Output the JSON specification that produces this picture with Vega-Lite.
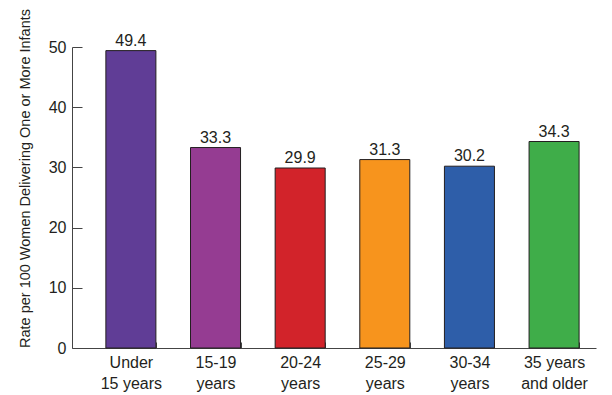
{
  "$schema": "https://vega.github.io/schema/vega-lite/v6.json",
  "autosize": "none",
  "padding": {"left": 72, "top": 47, "right": 16, "bottom": 47},
  "width": 524,
  "height": 301,
  "background": "white",
  "config": {
    "view": {"stroke": null},
    "font": "Liberation Sans",
    "axis": {"grid": false, "domainColor": "#444444", "tickColor": "#444444", "labelColor": "#231f20", "labelFont": "Liberation Sans", "titleFont": "Liberation Sans"}
  },
  "data": {
    "values": [
      {"age": "Under|15 years", "rate": 49.4},
      {"age": "15-19|years", "rate": 33.3},
      {"age": "20-24|years", "rate": 29.9},
      {"age": "25-29|years", "rate": 31.3},
      {"age": "30-34|years", "rate": 30.2},
      {"age": "35 years|and older", "rate": 34.3}
    ]
  },
  "encoding": {
    "x": {
      "field": "age", "type": "nominal", "sort": null,
      "scale": {"paddingInner": 0.409, "paddingOuter": 0.3, "align": 0.667},
      "axis": {
        "title": null, "labelAngle": 0, "labelFontSize": 16, "labelPadding": 12,
        "labelExpr": "isValid(datum.value) ? split(datum.value, '|') : ''", "labelLineHeight": 21,
        "tickBand": "extent", "tickSize": -6, "labelBaseline": "top"
      }
    },
    "y": {
      "field": "rate", "type": "quantitative",
      "scale": {"domain": [0, 50], "nice": false},
      "axis": {
        "values": [0, 10, 20, 30, 40, 50], "tickSize": -10, "labelPadding": 16, "labelFontSize": 16,
        "title": "Rate per 100 Women Delivering One or More Infants",
        "titleFontSize": 14.5, "titleFontWeight": "normal", "titleColor": "#231f20",
        "titleX": -47, "titleY": 131, "titleAngle": 270, "titleAlign": "center", "titleBaseline": "middle"
      }
    }
  },
  "layer": [
    {
      "mark": {"type": "bar", "stroke": "#231f20", "strokeWidth": 1},
      "encoding": {
        "color": {
          "field": "age", "type": "nominal", "legend": null,
          "scale": {
            "domain": ["Under|15 years", "15-19|years", "20-24|years", "25-29|years", "30-34|years", "35 years|and older"],
            "range": ["#603d96", "#953c92", "#d2232a", "#f7941d", "#2e5ea9", "#3fad49"]
          }
        }
      }
    },
    {
      "mark": {"type": "text", "baseline": "bottom", "dy": -2, "fontSize": 16, "color": "#231f20"},
      "encoding": {"text": {"field": "rate", "type": "quantitative", "format": ".1f"}}
    }
  ]
}
